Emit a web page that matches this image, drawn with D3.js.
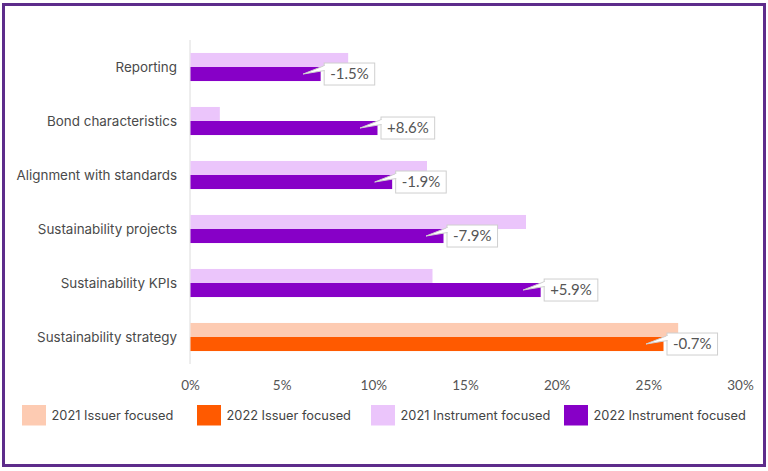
<!DOCTYPE html>
<html><head><meta charset="utf-8">
<script src="https://cdn.jsdelivr.net/npm/d3@7"></script>
<style>body{margin:0;background:#fff}svg{display:block}</style>
</head><body><div id="c"></div>
<script>
const categories = ["Reporting","Bond characteristics","Alignment with standards","Sustainability projects","Sustainability KPIs","Sustainability strategy"];
const values2021 = [8.6, 1.6, 12.9, 18.3, 13.2, 26.6];
const values2022 = [7.1, 10.2, 11.0, 13.8, 19.1, 25.8];
const changeLabels = ["-1.5%","+8.6%","-1.9%","-7.9%","+5.9%","-0.7%"];
const issuerFocused = [false,false,false,false,false,true];
const xTicks = [0,5,10,15,20,25,30];
const legendLabels = ["2021 Issuer focused","2022 Issuer focused","2021 Instrument focused","2022 Instrument focused"];
const legendColors = ["#fdcbb2","#ff5a00","#ebc5fb","#8700c7"];

const W=768,H=471;
const svg=d3.select("#c").append("svg").attr("width",W).attr("height",H);
svg.append("rect").attr("x",3.5).attr("y",4.5).attr("width",761).attr("height",461)
  .attr("fill","#fff").attr("stroke","#5d2c8b").attr("stroke-width",3);

const x=d3.scaleLinear().domain([0,30]).range([190,740]);
const y=d3.scaleBand().domain(categories).range([40,364]).paddingInner(0.48).paddingOuter(0.24);
const bh=y.bandwidth()/2;

svg.append("line").attr("x1",x(0)).attr("x2",x(0)).attr("y1",40).attr("y2",364)
  .attr("stroke","#dcdcdc").attr("stroke-width",1);

const g=svg.append("g");
categories.forEach((c,i)=>{
  const c21 = issuerFocused[i]?legendColors[0]:legendColors[2];
  const c22 = issuerFocused[i]?legendColors[1]:legendColors[3];
  g.append("rect").attr("x",x(0)+0.5).attr("y",y(c)).attr("width",x(values2021[i])-x(0)).attr("height",bh).attr("fill",c21);
  g.append("rect").attr("x",x(0)+0.5).attr("y",y(c)+bh).attr("width",x(values2022[i])-x(0)).attr("height",bh).attr("fill",c22);
});

const FONT="Inter, 'Open Sans', sans-serif";
// category labels
svg.append("g").selectAll("text").data(categories).join("text")
  .attr("x",177).attr("y",d=>y(d)+y.bandwidth()/2).attr("dy","0.35em")
  .attr("text-anchor","end").attr("font-family",FONT).attr("font-size",13.4)
  .attr("fill","#4a4a4a").text(d=>d);

// callouts
categories.forEach((c,i)=>{
  const ex=x(values2022[i]);
  const cy=y(c)+bh*1.5;
  const bx=ex+4, bhh=22, by=cy-11;
  const cg=svg.append("g");
  const box=cg.append("rect");
  const t=cg.append("text").attr("x",bx+6).attr("y",cy).attr("dy","0.36em")
    .attr("font-family","Lato, sans-serif").attr("font-size",15).attr("fill","#555").text(changeLabels[i]);
  const bw=t.node().getComputedTextLength()+12;
  box.attr("x",bx).attr("y",by).attr("width",bw).attr("height",bhh)
    .attr("fill","#fff").attr("stroke","#cfcfcf").attr("stroke-width",1);
  cg.insert("path","text").attr("d",`M${bx+0.5},${by+2.5} L${bx-21},${cy} L${bx+0.5},${by+7.5}`)
    .attr("fill","#fff").attr("stroke","#cfcfcf").attr("stroke-width",1);
  cg.insert("rect","text").attr("x",bx-0.5).attr("y",by+3).attr("width",2).attr("height",4).attr("fill","#fff");
});

// x axis
const ax=svg.append("g").attr("transform","translate(0,385)")
  .call(d3.axisBottom(x).tickValues(xTicks).tickFormat(d=>d+"%").tickSize(0));
ax.select(".domain").remove();
ax.selectAll("text").attr("font-family","Lato, sans-serif").attr("font-size",13.5).attr("fill","#555").attr("y",0).attr("dy","0.35em");

// legend
const lx=[22,197,371,564];
const lg=svg.append("g");
legendLabels.forEach((l,i)=>{
  lg.append("rect").attr("x",lx[i]).attr("y",405).attr("width",24).attr("height",20.5).attr("fill",legendColors[i]);
  lg.append("text").attr("x",lx[i]+29.5).attr("y",416).attr("dy","0.35em")
    .attr("font-family",FONT).attr("font-size",12.8).attr("fill","#444").text(l);
});
</script></body></html>
